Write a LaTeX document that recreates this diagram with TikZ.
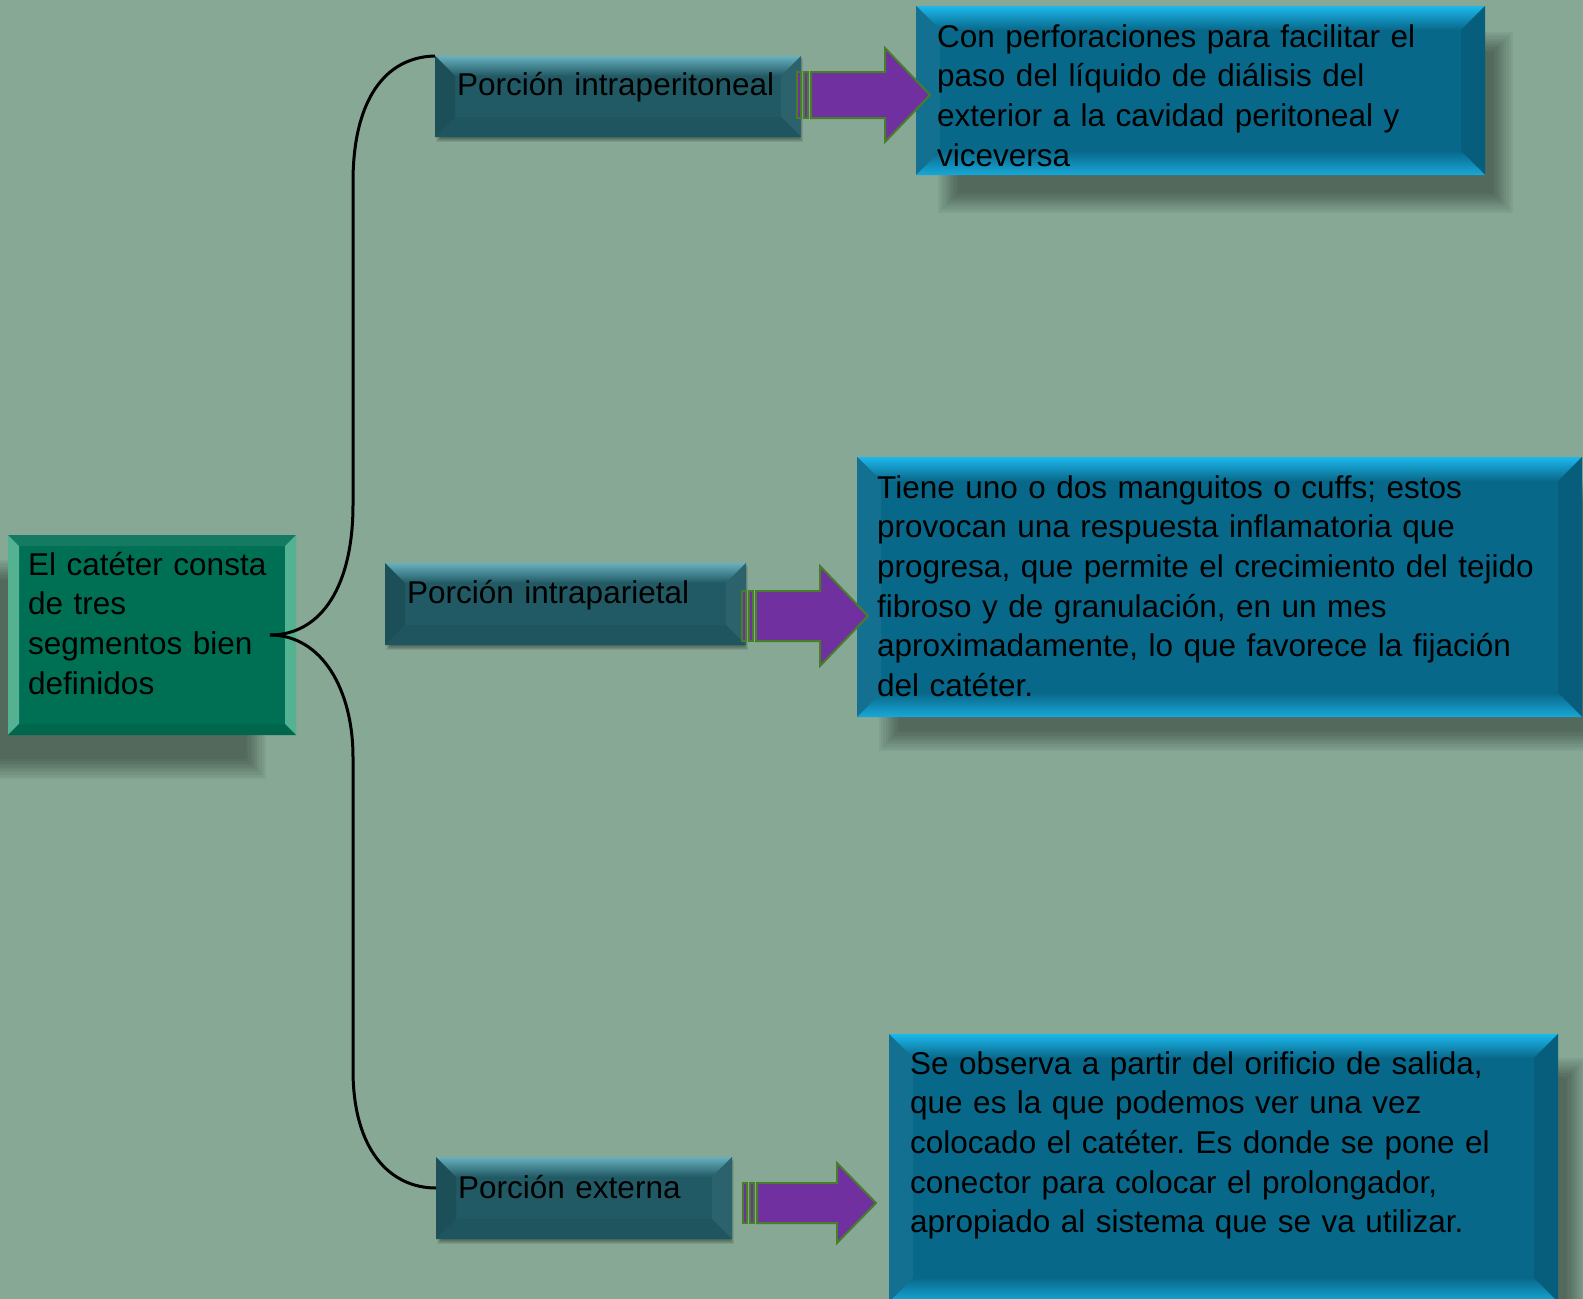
\documentclass[tikz,border=0pt]{standalone}
\usepackage{fontspec}
\setmainfont{Liberation Sans}
\frenchspacing
\usetikzlibrary{calc}
\usetikzlibrary{backgrounds}
\definecolor{bgcol}{RGB}{134,168,149}
\definecolor{catgreen}{RGB}{0,112,84}
\definecolor{catlight}{RGB}{84,178,146}
\definecolor{porteal}{RGB}{33,90,100}
\definecolor{porlight}{RGB}{104,176,190}
\definecolor{infoblue}{RGB}{8,104,138}
\definecolor{infolight}{RGB}{28,184,236}
\definecolor{arrowpurple}{RGB}{112,48,160}
\definecolor{arrowgreen}{RGB}{72,126,42}
\tikzset{
	box/.style={inner sep=0pt, outer sep=0pt, anchor=north west},
	catbox/.style={box, fill=catgreen},
	porbox/.style={box, fill=porteal},
	infobox/.style={box, fill=infoblue},
	boxtext/.style={inner sep=0pt, anchor=base west, align=left, text width=#1, text=black, font=\fontsize{31.5}{39.7}\selectfont},
	boxtext/.default=600pt,
	brace/.style={line width=3pt, black},
	striped/.style={fill=arrowpurple, draw=arrowgreen, line width=2pt},
}
% bevelled edges: node, size, top, left, right, bottom
\newcommand\bevel[6]{%
	\path[#3] (#1.north west) -- (#1.north east) -- ($(#1.north east)+(-#2,#2)$) -- ($(#1.north west)+(#2,#2)$) -- cycle;
	\path[#4] (#1.north west) -- ($(#1.north west)+(#2,#2)$) -- ($(#1.south west)+(#2,-#2)$) -- (#1.south west) -- cycle;
	\path[#5] (#1.north east) -- ($(#1.north east)+(-#2,#2)$) -- ($(#1.south east)+(-#2,-#2)$) -- (#1.south east) -- cycle;
	\path[#6] (#1.south west) -- ($(#1.south west)+(#2,-#2)$) -- ($(#1.south east)+(-#2,-#2)$) -- (#1.south east) -- cycle;
}
\newcommand\softshadow[4]{%
	\foreach \k in {0,...,9}
		\fill[black, opacity=.045] ($(#1.north west)+(#2)+(\k*#4,\k*#4)$) rectangle ($(#1.south east)+(#3)-(\k*#4,\k*#4)$);
}
% start, tip, shaft half height, head half height, head length
\newcommand\striparrow[5]{%
	\filldraw[striped] ($(#1)+(0,-#3)$) rectangle ($(#1)+(4,#3)$);
	\filldraw[striped] ($(#1)+(7,-#3)$) rectangle ($(#1)+(11,#3)$);
	\filldraw[striped] ($(#1)+(14,-#3)$) -- ($(#2)+(-#5,-#3)$) -- ($(#2)+(-#5,-#4)$) -- (#2) -- ($(#2)+(-#5,#4)$) -- ($(#2)+(-#5,#3)$) -- ($(#1)+(14,#3)$) -- cycle;
}

\begin{document}
\begin{tikzpicture}[x=1pt,y=-1pt]
	\useasboundingbox (0,0) rectangle (1583,1299);
	\clip (0,0) rectangle (1583,1299);
	\node[catbox, minimum width=288, minimum height=200] (cat) at (8,535) {};
	\node[porbox, minimum width=366, minimum height=81] (p1) at (435,56) {};
	\node[porbox, minimum width=361, minimum height=82] (p2) at (385,563) {};
	\node[porbox, minimum width=296, minimum height=82] (p3) at (436,1157) {};
	\node[infobox, minimum width=569, minimum height=169] (i1) at (916,6) {};
	\node[infobox, minimum width=725, minimum height=260] (i2) at (857,457) {};
	\node[infobox, minimum width=669, minimum height=268] (i3) at (889,1034) {};
	\begin{scope}[on background layer]
		\clip (0,0) rectangle (1583,1299);
		\fill[bgcol] (0,0) rectangle (1583,1299);
		\softshadow{cat}{-32,25}{-30,44}{2.2}
		\softshadow{i1}{22,26}{28,38}{2.2}
		\softshadow{i2}{22,24}{28,34}{2.2}
		\softshadow{i3}{22,24}{28,34}{2.2}
		\softshadow{p1}{1,2}{2,5}{.5}
		\softshadow{p2}{1,2}{2,5}{.5}
		\softshadow{p3}{1,2}{2,5}{.5}
	\end{scope}
	\bevel{cat}{11}{fill=catgreen!92!white}{fill=catlight}{fill=catlight}{fill=catgreen!92!black}
	\foreach \n in {p1,p2,p3}
		\bevel{\n}{20}{top color=porlight, bottom color=porteal}{fill=porteal!88!black}{fill=porteal!95!white}{fill=porteal!95!black};
	\foreach \n in {i1,i2,i3}
		\bevel{\n}{24}{top color=infolight, bottom color=infoblue}{fill=infoblue!95!white}{fill=infoblue!90!black}{top color=infoblue, bottom color=infolight!80!infoblue};
	% texts
	\node[boxtext=260pt] (catt) at ($(cat.north west)+(20,40)$) {El catéter consta\\de tres\\segmentos bien\\definidos};
	\node[boxtext] (p1t) at ($(p1.north west)+(22,39)$) {Porción intraperitoneal};
	\node[boxtext] (p2t) at ($(p2.north west)+(22,40)$) {Porción intraparietal};
	\node[boxtext] (p3t) at ($(p3.north west)+(22,41)$) {Porción externa};
	\node[boxtext=540pt] (i1t) at ($(i1.north west)+(21,41)$) {Con perforaciones para facilitar el\\paso del líquido de diálisis del\\exterior a la cavidad peritoneal y\\viceversa};
	\node[boxtext=700pt] (i2t) at ($(i2.north west)+(20,41)$) {Tiene uno o dos manguitos o cuffs; estos\\provocan una respuesta inflamatoria que\\progresa, que permite el crecimiento del tejido\\fibroso y de granulación, en un mes\\aproximadamente, lo que favorece la fijación\\del catéter.};
	\node[boxtext=640pt] (i3t) at ($(i3.north west)+(21,40)$) {Se observa a partir del orificio de salida,\\que es la que podemos ver una vez\\colocado el catéter. Es donde se pone el\\conector para colocar el prolongador,\\apropiado al sistema que se va utilizar.};
	% brace
	\coordinate (tip) at ($(cat.east)+(-26,0)$);
	\draw[brace] (tip) .. controls ($(tip)+(52,0)$) and (353,585) .. (353,505) -- (353,182) .. controls (353,100) and (385,57) .. (p1.north west);
	\draw[brace] (tip) .. controls ($(tip)+(52,0)$) and (353,690) .. (353,757) -- (353,1070) .. controls (353,1150) and (390,1188) .. ($(p3.north west)+(0,31)$);
	% arrows
	\coordinate (a1s) at ($(p1.east)+(-4,-1.5)$);
	\coordinate (a1e) at ($(i1.west |- a1s)+(14,0)$);
	\coordinate (a2s) at ($(p2.east)+(-4,12)$);
	\coordinate (a2e) at ($(i2.west |- a2s)+(11,0)$);
	\coordinate (a3s) at ($(p3.east)+(11,5)$);
	\coordinate (a3e) at ($(i3.west |- a3s)+(-13,0)$);
	\striparrow{a1s}{a1e}{23}{47}{45}
	\striparrow{a2s}{a2e}{25}{50}{48}
	\striparrow{a3s}{a3e}{20}{40}{39}
\end{tikzpicture}
\end{document}
